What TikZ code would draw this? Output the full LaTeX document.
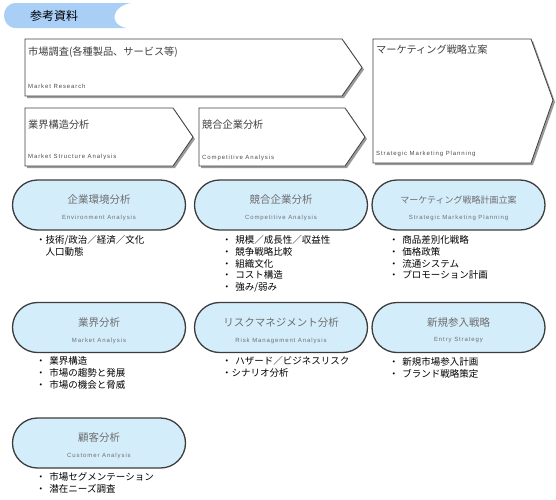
\documentclass[tikz,border=0pt]{standalone}
\usepackage{fontspec}
\setmainfont{Noto Sans CJK JP}
\newfontfamily\enfont[LetterSpace=15]{Liberation Sans}
\usepackage{xcolor}
\usetikzlibrary{positioning,calc}

\definecolor{tabblue}{HTML}{A9CFF7}
\definecolor{pillblue}{HTML}{D4EDFB}
\definecolor{pillline}{HTML}{3C3C3C}
\definecolor{titlegray}{HTML}{6E6E6E}
\definecolor{shadowgray}{HTML}{9A9A9A}

\tikzset{
  chevshadow/.style={fill=shadowgray, draw=none},
  chevbox/.style={fill=white, draw=black!75, line width=0.8pt},
  chevtitle/.style={anchor=west, inner sep=0pt, text=black!75,
                    font=\fontsize{10.2}{12}\selectfont},
  chevsub/.style={anchor=west, inner sep=0pt, text=black!70,
                  font=\enfont\fontsize{6}{7}\selectfont},
  pill/.style={draw=pillline, line width=1.3pt, fill=pillblue,
               rounded corners=25pt, minimum width=173pt, minimum height=50pt},
  pilltitle/.style={inner sep=0pt, text=titlegray,
                    font=\fontsize{10.5}{12}\selectfont},
  pillsub/.style={inner sep=0pt, text=titlegray,
                  font=\enfont\fontsize{6}{7}\selectfont},
  bullets/.style={anchor=north west, inner sep=0pt, align=left,
                  font=\fontsize{9.5}{11.7}\selectfont}
}

\begin{document}
\begin{tikzpicture}[x=1pt, y=-1pt]
  \useasboundingbox (0,0) rectangle (556,499);

  % Title tab
  \fill[tabblue] (16,3) -- (131,3) .. controls (112,6) and (108,24) .. (126,28)
        -- (16,28) .. controls (0,28) and (0,3) .. (16,3) -- cycle;
  \node[anchor=west, inner sep=0pt, font=\fontsize{12}{14}\selectfont]
        (tabtext) at (30,16) {参考資料};

  % Market research chevron
  \fill[chevshadow] (27,41) -- (344,41) -- (364,69.5) -- (344,98) -- (27,98) -- cycle;
  \draw[chevbox] (25,39) -- (342,39) -- (362,67.5) -- (342,96) -- (25,96) -- cycle;
  \node[chevtitle] (mrtitle) at (28,52) {市場調査(各種製品、サービス等)};
  \node[chevsub] (mrsub) at (28,86) {Market Research};

  % Market structure chevron
  \fill[chevshadow] (27,110) -- (175,110) -- (195,139) -- (175,168) -- (27,168) -- cycle;
  \draw[chevbox] (25,108) -- (173,108) -- (193,137) -- (173,166) -- (25,166) -- cycle;
  \node[chevtitle] (mstitle) at (28,125) {業界構造分析};
  \node[chevsub] (mssub) at (28,157) {Market Structure Analysis};

  % Competitive chevron
  \fill[chevshadow] (201,110) -- (347,110) -- (367,139) -- (347,168) -- (201,168) -- cycle;
  \draw[chevbox] (199,108) -- (345,108) -- (365,137) -- (345,166) -- (199,166) -- cycle;
  \node[chevtitle] (cptitle) at (202,125) {競合企業分析};
  \node[chevsub] (cpsub) at (202,158) {Competitive Analysis};

  % Strategic planning chevron
  \fill[chevshadow] (375,41) -- (533,41) -- (555,102) -- (533,165) -- (375,165) -- cycle;
  \draw[chevbox] (373,39) -- (531,39) -- (553,100) -- (531,163) -- (373,163) -- cycle;
  \node[chevtitle] (sptitle) at (376,50) {マーケティング戦略立案};
  \node[chevsub] (spsub) at (376,154) {Strategic Marketing Planning};

  % Row 1 pills
  \node[pill] (env) at (99,205) {};
  \node[pilltitle] at ($(env.center)+(0,-5)$) {企業環境分析};
  \node[pillsub] at ($(env.center)+(0,13)$) {Environment Analysis};

  \node[pill] (comp) at (281,205) {};
  \node[pilltitle] at ($(comp.center)+(0,-5)$) {競合企業分析};
  \node[pillsub] at ($(comp.center)+(0,13)$) {Competitive Analysis};

  \node[pill] (plan) at (458.5,205) {};
  \node[pilltitle, font=\fontsize{9}{11}\selectfont]
        at ($(plan.center)+(0,-5)$) {マーケティング戦略計画立案};
  \node[pillsub] at ($(plan.center)+(0,13)$) {Strategic Marketing Planning};

  % Row 2 pills
  \node[pill] (mkt) at (99,327.5) {};
  \node[pilltitle] at ($(mkt.center)+(0,-5)$) {業界分析};
  \node[pillsub] at ($(mkt.center)+(0,13)$) {Market Analysis};

  \node[pill] (risk) at (281,327.5) {};
  \node[pilltitle] at ($(risk.center)+(0,-5)$) {リスクマネジメント分析};
  \node[pillsub] at ($(risk.center)+(0,13)$) {Risk Management Analysis};

  \node[pill] (entry) at (458.5,327.5) {};
  \node[pilltitle] at ($(entry.center)+(0,-5)$) {新規参入戦略};
  \node[pillsub] at ($(entry.center)+(0,13)$) {Entry Strategy};

  % Row 3 pill
  \node[pill] (cust) at (99,443) {};
  \node[pilltitle] at ($(cust.center)+(0,-5)$) {顧客分析};
  \node[pillsub] at ($(cust.center)+(0,13)$) {Customer Analysis};

  % Bullet lists
  \node[bullets] (envlist) at (36,235.5)
    {・技術/政治／経済／文化\\\hspace*{1em}人口動態};
  \node[bullets] (complist) at (222,235.5)
    {・\hspace{0.4em}規模／成長性／収益性\\・\hspace{0.4em}競争戦略比較\\
     ・\hspace{0.4em}組織文化\\・\hspace{0.4em}コスト構造\\・\hspace{0.4em}強み/弱み};
  \node[bullets] (planlist) at (389,235.5)
    {・\hspace{0.4em}商品差別化戦略\\・\hspace{0.4em}価格政策\\
     ・\hspace{0.4em}流通システム\\・\hspace{0.4em}プロモーション計画};

  \node[bullets] (mktlist) at (36,356.5)
    {・\hspace{0.4em}業界構造\\・\hspace{0.4em}市場の趨勢と発展\\・\hspace{0.4em}市場の機会と脅威};
  \node[bullets] (risklist) at (222,356.5)
    {・\hspace{0.4em}ハザード／ビジネスリスク\\・シナリオ分析};
  \node[bullets] (entrylist) at (389,357.5)
    {・\hspace{0.4em}新規市場参入計画\\・\hspace{0.4em}ブランド戦略策定};

  \node[bullets] (custlist) at (36,472.5)
    {・\hspace{0.4em}市場セグメンテーション\\・\hspace{0.4em}潜在ニーズ調査};
\end{tikzpicture}
\end{document}
